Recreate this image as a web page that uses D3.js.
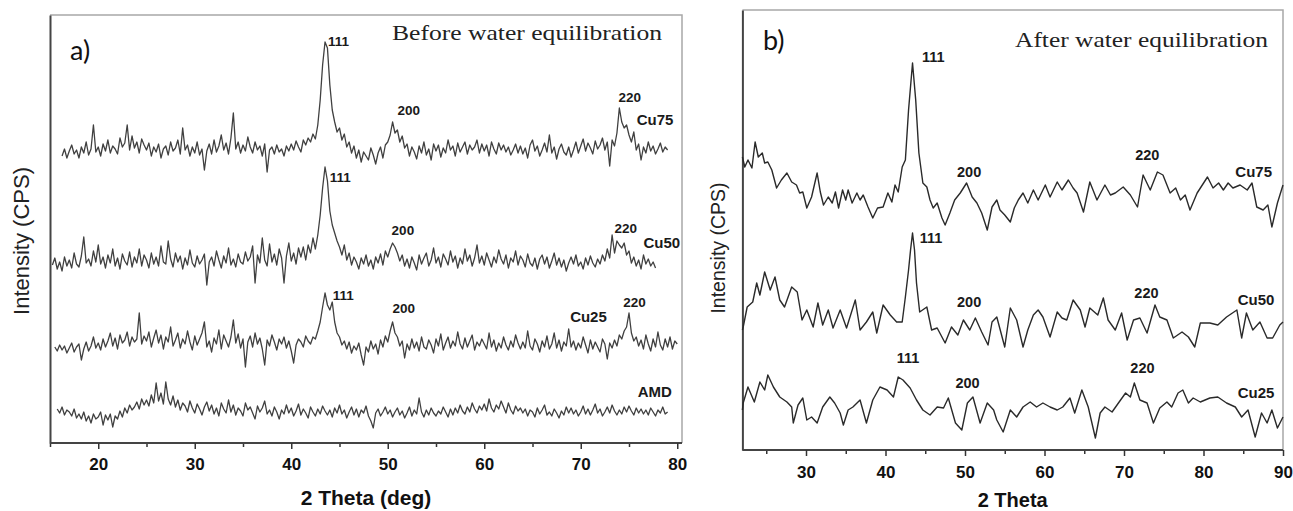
<!DOCTYPE html>
<html>
<head>
<meta charset="utf-8">
<script src="https://cdn.jsdelivr.net/npm/d3@7"></script>
<style>
	body { margin: 0; background: #fff; }
	svg { display: block; }
</style>
</head>
<body>
<script>

// DATA: panel a) before water equilibration, 2θ sampled every 0.25 deg
const STEP_A = 0.25;
const samplesA = ["Cu75", "Cu50", "Cu25", "AMD"];
const startA = [16.25, 15.25, 15.5, 15.75];
const offsetsA = [263, 150, 66, 0];

const cu75A = [24,31,22,
	29,35,26,30, 22,33,27,38, 25,31,55,28, 33,24,36,29, 40,27,34,31, 26,42,33,37, 55,30,44,32,
	38,27,41,35, 30,37,24,33, 28,36,22,31, 34,25,38,29, 32,40,26,52, 30,35,24,33, 27,38,25,31,
	10,29,36,26, 40,28,34,45, 30,37,26,42, 67,31,38,27, 35,29,43,33, 27,38,30,34, 24,36,8,30,
	33,26,35,28, 31,24,34,29, 36,30,39,33, 28,40,35,42, 38,46,41,55, 80,115,138,132, 95,70,58,48,
	52,40,46,33, 38,27,34,22, 30,18,28,24, 20,32,25,16, 27,33,22,35, 38,45,58,47, 50,38,44,32,
	36,24,33,28, 21,34,27,38, 25,31,20,36, 29,35,23,32, 27,40,30,34, 24,37,28,33, 38,26,35,30,
	33,40,27,36, 29,35,24,38, 31,26,37,30, 35,28,33,25, 30,36,27,34, 26,32,22,35, 40,29,34,24,
	30,37,28,45, 27,33,21,31, 36,28,25,33, 23,30,38,27, 34,41,29,37, 32,26,39,31, 35,42,30,38,
	14,40,34,47, 72,58,52,55, 45,38,48,30, 36,20,33,27, 38,29,34,26, 31,37,28,33, 30];

const cu50A = [28,35,24,
	31,22,36,27, 33,25,40,29, 26,37,56,30, 34,27,42,31, 48,29,36,25, 38,30,44,27, 35,24,39,32,
	28,41,26,36, 30,44,27,38, 33,25,40,29, 36,27,47,31, 29,52,34,26, 40,31,37,24, 35,28,43,30,
	26,37,29,33, 39,8,31,36, 27,42,33,25, 37,30,45,28, 34,26,39,31, 29,41,32,36, 47,10,38,30,
	55,33,27,49, 31,39,28,44, 35,10,37,50, 32,40,29,45, 36,46,33,48, 40,55,44,58, 78,105,126,112,
	82,68,60,52, 46,38,48,33, 40,28,36,31, 24,35,29,38, 27,33,24,36, 30,39,28,42, 36,44,50,46,
	40,32,38,27, 34,25,36,30, 23,38,29,35, 40,27,33,45, 30,36,26,39, 34,28,42,31, 37,25,35,29,
	44,32,38,27, 35,48,30,37, 28,40,33,26, 36,30,43,34, 29,38,25,35, 31,42,28,37, 33,26,39,30,
	27,35,24,34, 38,29,36,25, 32,40,28,35, 26,33,22,30, 36,29,38,27, 31,24,35,28, 37,30,26,34,
	29,38,32,44, 35,58,40,52, 48,45,50,38, 42,30,36,27, 33,24,38,29, 34,27,31,25];

const cu25A = [30,26,
	32,27,31,24, 29,34,25,30, 33,17,28,35, 26,31,40,29, 34,27,38,30, 36,44,31,39, 28,42,34,37,
	45,31,40,35, 38,64,33,41, 36,45,30,39, 47,34,42,28, 40,35,50,31, 37,44,29,38, 33,46,35,27,
	41,32,38,44, 55,30,36,25, 39,33,47,28, 42,36,30,40, 57,34,43,29, 38,10,35,41, 30,44,33,39,
	28,12,37,31, 42,35,27,38, 33,40,29,36, 26,14,32,38, 35,30,41,36, 33,40,38,46, 55,70,84,72,
	67,75,55,44, 40,32,36,28, 35,24,31,27, 34,22,12,30, 25,36,28,33, 23,37,30,41, 35,46,55,44,
	40,31,36,19, 33,27,38,29, 35,26,40,30, 28,37,32,24, 38,31,43,27, 34,40,29,36, 31,45,33,28,
	39,30,36,42, 27,35,31,38, 33,28,44,30, 37,26,34,29, 40,32,27,36, 30,42,34,28, 35,29,46,31,
	27,38,33,25, 36,30,41,28, 33,44,29,37, 26,35,31,48, 30,36,27,34, 29,40,32,24, 37,28,35,30,
	25,38,33,18, 34,29,37,31, 42,38,46,50, 64,44,36,40, 31,37,28,42, 33,26,38,30, 45,32,27,38,
	30,40,28,36, 33];

const amdA = [34,
	30,36,28,33, 31,27,34,25, 29,24,31,22, 27,20,29,24, 26,31,18,28, 23,29,16,27, 24,32,26,35,
	30,38,33,36, 41,34,44,38, 43,37,48,40, 60,42,50,39, 61,44,38,47, 36,43,33,40, 37,31,42,35,
	30,39,34,28, 36,41,32,38, 29,35,27,40, 34,30,43,31, 38,28,35,32, 27,40,33,36, 30,24,37,31,
	35,42,29,33, 27,36,31,24, 33,29,38,30, 35,27,32,39, 28,34,30,25, 36,31,27,34, 29,37,32,28,
	33,26,35,30, 38,29,33,25, 31,36,28,34, 26,33,30,37, 27,22,15,30, 34,27,31,36, 29,33,26,31,
	35,28,32,25, 30,36,27,33, 29,45,31,26, 33,28,35,30, 27,32,29,36, 31,26,34,28, 35,30,38,32,
	29,36,31,40, 34,30,37,33, 39,32,44,35, 31,38,34,42, 36,30,40,33, 29,37,32,35, 30,34,27,33,
	31,26,35,29, 33,38,28,31, 27,34,30,25, 32,28,36,30, 35,29,33,27, 31,37,29,34, 28,33,39,30,
	34,27,31,36, 30,38,32,28, 33,29,36,31, 37,32,28,35, 30,34,29,33, 28,35,31,27, 33,30,36,29,
	31];

const seriesA = [cu75A, cu50A, cu25A, amdA];

// DATA: panel b) after water equilibration, [2θ, intensity]
const samplesB = ["Cu75", "Cu50", "Cu25"];
const offsetsB = [210, 85, 0];

const cu75B = [[22.0,83],[22.3,73],[22.7,80],[23.2,72],[23.6,98],[24.0,83],[24.5,87],[24.8,77],[25.2,78],
	[25.7,70],[26.3,52],[26.9,60],[27.6,67],[28.2,58],[28.8,55],[29.2,47],[29.6,48],[30.1,32],[30.7,43],
	[31.4,67],[31.8,48],[32.2,35],[32.8,43],[33.3,37],[33.7,48],[34.1,32],[34.6,50],[35.0,40],[35.3,50],
	[35.8,37],[36.4,47],[36.8,40],[37.2,45],[37.8,33],[38.4,22],[39.0,32],[39.7,33],[40.3,47],[40.8,38],
	[41.2,55],[41.6,48],[42.1,73],[42.5,80],[42.9,130],[43.4,177],[43.8,140],[44.2,87],[44.7,57],[45.2,53],
	[45.6,40],[46.0,32],[46.5,37],[47.1,22],[47.5,15],[48.1,27],[48.7,40],[49.4,47],[50.2,57],[50.9,43],
	[51.5,37],[52.1,27],[52.8,10],[53.4,33],[54.0,40],[54.4,30],[55.0,25],[55.7,18],[56.2,32],[56.7,40],
	[57.3,47],[57.9,37],[58.6,50],[59.2,40],[60.1,55],[60.7,43],[61.6,58],[62.2,50],[63.0,60],[63.6,52],
	[64.1,47],[64.9,28],[65.7,58],[66.6,40],[67.6,55],[68.3,45],[68.9,47],[69.9,53],[70.8,45],[71.7,33],
	[72.4,65],[73.3,50],[74.2,68],[74.9,65],[75.8,47],[76.5,52],[77.1,40],[77.7,45],[78.3,30],[79.2,47],
	[80.5,63],[81.2,52],[81.9,57],[82.5,50],[83.1,57],[83.7,52],[84.6,55],[85.5,50],[86.1,57],[86.7,33],
	[87.5,30],[88.1,35],[88.6,13],[89.3,37],[90.0,55]];

const cu50B = [[22.0,35],[22.1,38],[22.6,58],[23.3,63],[23.8,82],[24.2,70],[24.8,93],[25.5,75],[26.1,88],
	[26.7,65],[27.3,58],[28.2,78],[28.9,73],[29.5,45],[30.1,55],[30.9,38],[31.5,62],[32.1,40],[32.8,55],
	[33.4,37],[34.3,55],[35.1,37],[36.2,65],[36.8,35],[37.6,43],[38.4,53],[38.9,32],[39.7,60],[40.6,50],
	[41.4,43],[42.1,43],[42.5,68],[42.9,95],[43.15,115],[43.4,132],[43.65,115],[43.9,82],[44.3,53],[45.2,58],
	[45.8,35],[46.5,37],[47.5,22],[48.3,38],[49.1,30],[49.8,45],[50.6,35],[51.3,47],[52.1,33],[52.9,20],
	[53.4,43],[54.0,48],[55.0,18],[55.7,57],[56.5,45],[57.3,18],[57.9,35],[58.6,50],[59.2,55],[59.8,48],
	[60.7,28],[61.6,53],[62.2,47],[62.8,45],[63.6,65],[64.5,55],[65.1,38],[65.7,57],[66.7,50],[67.4,67],
	[68.0,45],[68.9,35],[69.7,52],[70.4,25],[71.2,45],[72.0,47],[72.9,32],[73.9,60],[74.5,48],[75.4,45],
	[76.2,27],[77.3,33],[78.1,28],[78.9,18],[79.6,42],[80.8,42],[81.8,40],[82.9,48],[84.2,55],[84.8,27],
	[85.4,52],[86.2,35],[87.1,43],[88.0,27],[88.7,27],[89.6,40],[90.0,43]];

const cu25B = [[22.0,40],[22.1,47],[22.7,63],[23.5,48],[24.2,68],[24.8,60],[25.2,75],[25.9,63],[26.7,53],
	[27.6,48],[28.2,43],[28.4,27],[29.0,45],[29.6,52],[30.1,30],[30.7,33],[31.4,27],[32.1,43],[33.0,53],
	[33.6,47],[34.3,37],[34.7,25],[35.3,40],[35.9,43],[36.8,50],[37.6,27],[38.4,50],[39.3,63],[40.2,60],
	[41.0,53],[41.6,73],[42.2,70],[43.1,62],[43.9,50],[44.7,40],[45.6,35],[46.5,43],[47.3,42],[47.9,52],
	[48.8,27],[49.6,20],[50.3,47],[51.0,53],[51.9,27],[52.8,47],[53.6,40],[54.0,30],[54.8,18],[55.7,40],
	[56.5,33],[57.3,43],[58.2,48],[59.0,43],[59.8,47],[60.7,43],[61.6,40],[62.3,43],[63.2,52],[63.8,37],
	[64.7,60],[65.5,43],[66.4,12],[67.0,37],[67.6,43],[68.5,38],[69.3,47],[70.2,57],[70.8,53],[71.3,67],
	[72.0,50],[72.9,47],[73.7,27],[74.5,42],[75.4,48],[76.0,43],[76.8,57],[77.4,60],[78.1,47],[78.7,52],
	[79.6,48],[80.8,52],[81.8,53],[82.9,47],[84.0,43],[84.8,33],[85.6,40],[86.5,13],[87.3,37],[88.0,27],
	[88.6,40],[89.3,22],[90.0,33]];

const seriesB = [cu75B, cu50B, cu25B];

// AXES
const ticksA = [20, 30, 40, 50, 60, 70, 80];
const minorA = [15, 25, 35, 45, 55, 65, 75];
const ticksB = [30, 40, 50, 60, 70, 80, 90];
const minorB = [25, 35, 45, 55, 65, 75, 85];

// ANNOTATIONS: [text, 2θ, intensity] in each panel's data units
const hklA = [["111",43.8,397],["200",51.0,328],["220",73.9,341],
	["111",44.0,261],["200",50.4,208],["220",73.5,210],
	["111",44.3,143],["200",50.5,130],["220",74.4,136]];
const nameA = [["Cu75",75.8,318],["Cu50",76.5,195],["Cu25",68.9,121],["AMD",75.9,46]];
const hklB = [["111",44.6,388],["200",49.0,273],["220",71.4,290],
	["111",44.3,207],["200",49.0,143],["220",71.3,152],
	["111",41.4,87],["200",48.8,62],["220",70.8,77]];
const nameB = [["Cu75",84.0,273],["Cu50",84.3,145],["Cu25",84.3,52]];


// SVG DIMENSIONS
const width = 1293;
const height = 511;
const svg = d3.select("body")
	.append("svg")
	.attr("width", width)
	.attr("height", height);


/** DRAW PANEL
	* 1. Scales from the panel box.
	* 2. Frame, axes and ticks.
	* 3. Traces, then peak and sample labels.
	*/
function drawPanel(p) {
	const x = d3.scaleLinear().domain(p.xDomain).range([p.left, p.xEnd]);
	const y = d3.scaleLinear().domain(p.yDomain).range([p.bottom, p.top]);
	const g = svg.append("g");

	// frame (top & right, light)
	g.append("path")
		.attr("d", `M${p.left},${p.top}H${p.right}V${p.bottom}`)
		.attr("fill", "none")
		.attr("stroke", "#a8a8a8")
		.attr("stroke-width", 1.5);

	// minor ticks
	g.append("g")
		.attr("transform", `translate(0,${p.bottom})`)
		.call(d3.axisBottom(x).tickValues(p.minor).tickSize(4).tickSizeOuter(0).tickFormat(""))
		.call(a => a.select(".domain").remove())
		.call(a => a.selectAll("line").attr("stroke", "#333").attr("stroke-width", 1.5));

	// bottom axis
	g.append("g")
		.attr("transform", `translate(0,${p.bottom})`)
		.call(d3.axisBottom(x).tickValues(p.ticks).tickSize(6).tickSizeOuter(0).tickPadding(p.pad))
		.call(a => a.select(".domain")
			.attr("d", `M${p.left},0H${p.right}`)
			.attr("stroke", "#444").attr("stroke-width", 2))
		.call(a => a.selectAll("line").attr("stroke", "#333").attr("stroke-width", 1.5))
		.call(a => a.selectAll("text")
			.attr("fill", "#111")
			.style("font", "bold 17px 'Liberation Sans', Arial, sans-serif"));

	// left axis (no ticks)
	g.append("g")
		.attr("transform", `translate(${p.left},0)`)
		.call(d3.axisLeft(y).tickValues([]).tickSizeOuter(0))
		.call(a => a.select(".domain").attr("stroke", "#444").attr("stroke-width", 2));

	// traces
	const line = d3.line().x(d => x(d[0])).y(d => y(d[1]));
	p.series.forEach((s, i) => {
		g.append("path")
			.datum(s.map(d => [d[0], d[1] + p.offsets[i]]))
			.attr("d", line)
			.attr("fill", "none")
			.attr("stroke", p.color)
			.attr("stroke-width", p.lw)
			.attr("stroke-linejoin", "round");
	});

	// labels
	const label = (rows, size) => g.append("g")
		.selectAll("text")
		.data(rows)
		.enter()
		.append("text")
			.attr("x", d => x(d[1]))
			.attr("y", d => y(d[2]))
			.attr("fill", "#1a1a1a")
			.style("font", `bold ${size}px 'Liberation Sans', Arial, sans-serif`)
			.text(d => d[0]);
	label(p.hkl, p.hklSize);
	label(p.names, p.nameSize);

	// axis titles
	g.append("text")
		.attr("x", (p.left + p.right) / 2)
		.attr("y", p.xTitleY)
		.attr("text-anchor", "middle")
		.attr("fill", "#111")
		.style("font", `bold ${p.xTitleSize}px 'Liberation Sans', Arial, sans-serif`)
		.text(p.xTitle);
	g.append("text")
		.attr("transform", `translate(${p.yTitleX},${p.yTitleY}) rotate(-90)`)
		.attr("text-anchor", "middle")
		.attr("fill", "#222")
		.style("font", `${p.yTitleSize}px 'Liberation Sans', Arial, sans-serif`)
		.text("Intensity (CPS)");

	// panel letter & condition
	g.append("text")
		.attr("x", p.tag[1]).attr("y", p.tag[2])
		.attr("fill", "#111")
		.style("font", "27px Lato, 'Open Sans', sans-serif")
		.text(p.tag[0]);
	g.append("text")
		.attr("x", p.cond[1]).attr("y", p.cond[2])
		.attr("textLength", p.cond[3])
		.attr("lengthAdjust", "spacingAndGlyphs")
		.attr("fill", "#222")
		.style("font", "21px 'Liberation Serif', 'Times New Roman', serif")
		.text(p.cond[0]);
}


// PANEL a)
drawPanel({
	left: 50, right: 682, xEnd: 50 + 65 * 9.65, top: 15, bottom: 443,
	xDomain: [15, 80], yDomain: [0, 428],
	ticks: ticksA, minor: minorA, pad: 9,
	series: seriesA.map((vals, i) => vals.map((v, j) => [startA[i] + j * STEP_A, v])),
	offsets: offsetsA, color: "#404040", lw: 1.3,
	hkl: hklA, names: nameA, hklSize: 13.5, nameSize: 15,
	xTitle: "2 Theta (deg)", xTitleY: 505, xTitleSize: 21,
	yTitleX: 29, yTitleY: 241, yTitleSize: 22,
	tag: ["a)", 70, 60],
	cond: ["Before water equilibration", 392, 40, 270]
});

// PANEL b)
drawPanel({
	left: 742.4, right: 1283, xEnd: 1283, top: 10, bottom: 450,
	xDomain: [22, 90], yDomain: [0, 440],
	ticks: ticksB, minor: minorB, pad: 10,
	series: seriesB,
	offsets: offsetsB, color: "#2a2a2a", lw: 1.4,
	hkl: hklB, names: nameB, hklSize: 14.5, nameSize: 15,
	xTitle: "2 Theta", xTitleY: 507, xTitleSize: 20,
	yTitleX: 725, yTitleY: 248, yTitleSize: 19.5,
	tag: ["b)", 763, 50],
	cond: ["After water equilibration", 1015, 47, 253]
});

</script>
</body>
</html>
